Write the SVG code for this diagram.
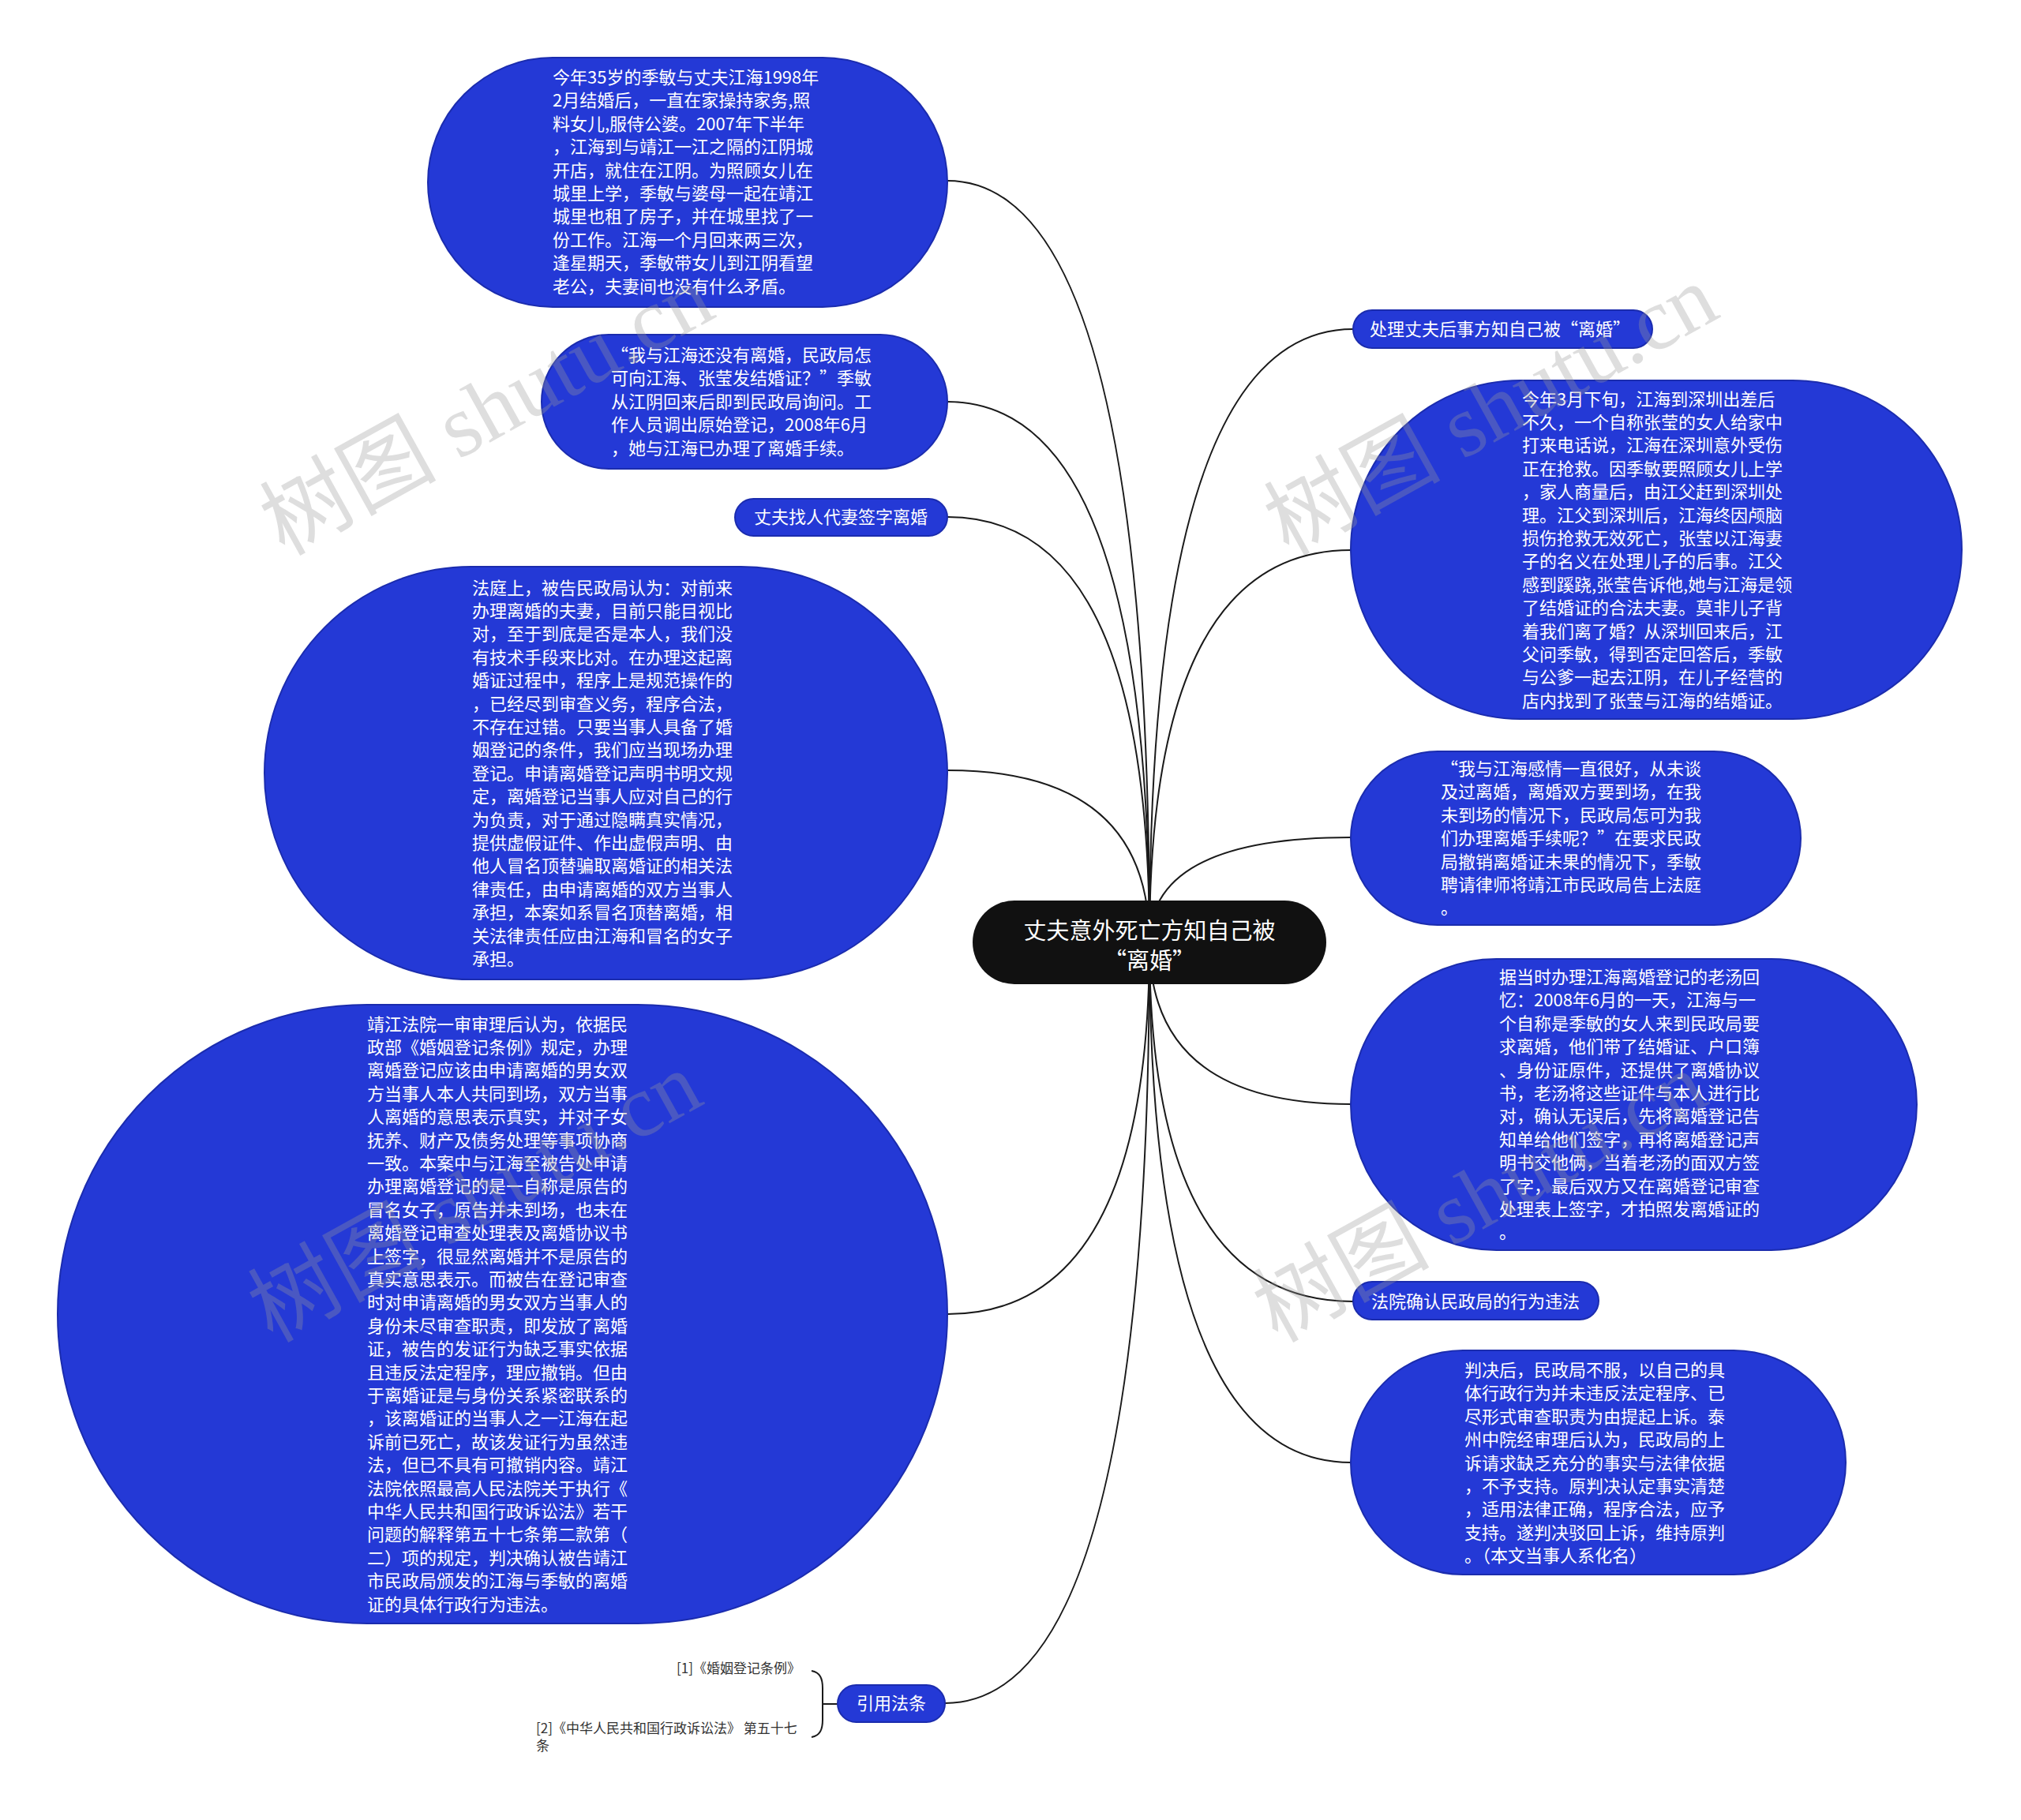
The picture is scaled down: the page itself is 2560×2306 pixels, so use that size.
<svg xmlns="http://www.w3.org/2000/svg" width="2560" height="2306" viewBox="0 0 2560 2306">
<style>
.n{fill:#2439d6;stroke:#1b2cae;stroke-width:2}
.t{font-family:"Noto Sans CJK SC","Noto Sans",sans-serif;font-size:22px;fill:#ffffff}
.tc{text-anchor:middle}
.c{fill:none;stroke:#1a1a1a;stroke-width:2}
.cite{font-family:"Noto Sans CJK SC","Noto Sans",sans-serif;font-size:17px;fill:#333333}
.wm{font-family:"Liberation Serif","Noto Sans CJK SC",serif;font-size:112px;fill:#9a9a9a;opacity:0.32}
</style>
<rect width="2560" height="2306" fill="#ffffff"/>
<g id="connectors">
<path class="c" d="M1200,229 Q1456,229 1456,1194"/>
<path class="c" d="M1200,509 Q1456,509 1456,1194"/>
<path class="c" d="M1200,655 Q1456,655 1456,1194"/>
<path class="c" d="M1200,976 Q1456,976 1456,1194"/>
<path class="c" d="M1200,1665 Q1456,1665 1456,1194"/>
<path class="c" d="M1197,2158 Q1456,2158 1456,1194"/>
<path class="c" d="M1714,417 Q1456,417 1456,1194"/>
<path class="c" d="M1711,697 Q1456,697 1456,1194"/>
<path class="c" d="M1711,1061 Q1456,1061 1456,1194"/>
<path class="c" d="M1711,1399 Q1456,1399 1456,1194"/>
<path class="c" d="M1714,1649 Q1456,1649 1456,1194"/>
<path class="c" d="M1711,1853 Q1456,1853 1456,1194"/>
<path class="c" d="M1028,2117 C1039,2119 1042,2127 1042,2139 L1042,2179 C1042,2191 1039,2199 1028,2201"/>
<path class="c" d="M1042,2159 L1061,2159"/>
</g>
<g id="root">
<rect x="1232" y="1141" width="448" height="106" rx="53" fill="#111111"/>
<text class="t tc" x="1456" y="1190" style="font-size:29px">丈夫意外死亡方知自己被</text>
<text class="t tc" x="1456" y="1228" style="font-size:29px">“离婚”</text>
</g>
<g id="n1">
<rect class="n" x="542" y="73" width="658" height="316" rx="158"/>
<text class="t" x="700" y="106"><tspan x="700" dy="0">今年35岁的季敏与丈夫江海1998年</tspan><tspan x="700" dy="29.4">2月结婚后，一直在家操持家务,照</tspan><tspan x="700" dy="29.4">料女儿,服侍公婆。2007年下半年</tspan><tspan x="700" dy="29.4">，江海到与靖江一江之隔的江阴城</tspan><tspan x="700" dy="29.4">开店，就住在江阴。为照顾女儿在</tspan><tspan x="700" dy="29.4">城里上学，季敏与婆母一起在靖江</tspan><tspan x="700" dy="29.4">城里也租了房子，并在城里找了一</tspan><tspan x="700" dy="29.4">份工作。江海一个月回来两三次，</tspan><tspan x="700" dy="29.4">逢星期天，季敏带女儿到江阴看望</tspan><tspan x="700" dy="29.4">老公，夫妻间也没有什么矛盾。</tspan></text>
</g>
<g id="n2">
<rect class="n" x="686" y="424" width="514" height="170" rx="85"/>
<text class="t" x="774" y="458"><tspan x="774" dy="0">“我与江海还没有离婚，民政局怎</tspan><tspan x="774" dy="29.4">可向江海、张莹发结婚证？”季敏</tspan><tspan x="774" dy="29.4">从江阴回来后即到民政局询问。工</tspan><tspan x="774" dy="29.4">作人员调出原始登记，2008年6月</tspan><tspan x="774" dy="29.4">，她与江海已办理了离婚手续。</tspan></text>
</g>
<g id="n3">
<rect class="n" x="931" y="632" width="269" height="47" rx="23.5"/>
<text class="t tc" x="1065" y="663">丈夫找人代妻签字离婚</text>
</g>
<g id="n4">
<rect class="n" x="335" y="718" width="865" height="523" rx="261.5"/>
<text class="t" x="598" y="752.5"><tspan x="598" dy="0">法庭上，被告民政局认为：对前来</tspan><tspan x="598" dy="29.4">办理离婚的夫妻，目前只能目视比</tspan><tspan x="598" dy="29.4">对，至于到底是否是本人，我们没</tspan><tspan x="598" dy="29.4">有技术手段来比对。在办理这起离</tspan><tspan x="598" dy="29.4">婚证过程中，程序上是规范操作的</tspan><tspan x="598" dy="29.4">，已经尽到审查义务，程序合法，</tspan><tspan x="598" dy="29.4">不存在过错。只要当事人具备了婚</tspan><tspan x="598" dy="29.4">姻登记的条件，我们应当现场办理</tspan><tspan x="598" dy="29.4">登记。申请离婚登记声明书明文规</tspan><tspan x="598" dy="29.4">定，离婚登记当事人应对自己的行</tspan><tspan x="598" dy="29.4">为负责，对于通过隐瞒真实情况，</tspan><tspan x="598" dy="29.4">提供虚假证件、作出虚假声明、由</tspan><tspan x="598" dy="29.4">他人冒名顶替骗取离婚证的相关法</tspan><tspan x="598" dy="29.4">律责任，由申请离婚的双方当事人</tspan><tspan x="598" dy="29.4">承担，本案如系冒名顶替离婚，相</tspan><tspan x="598" dy="29.4">关法律责任应由江海和冒名的女子</tspan><tspan x="598" dy="29.4">承担。</tspan></text>
</g>
<g id="n5">
<rect class="n" x="73" y="1273" width="1127" height="784" rx="392"/>
<text class="t" x="465" y="1305.5"><tspan x="465" dy="0">靖江法院一审审理后认为，依据民</tspan><tspan x="465" dy="29.4">政部《婚姻登记条例》规定，办理</tspan><tspan x="465" dy="29.4">离婚登记应该由申请离婚的男女双</tspan><tspan x="465" dy="29.4">方当事人本人共同到场，双方当事</tspan><tspan x="465" dy="29.4">人离婚的意思表示真实，并对子女</tspan><tspan x="465" dy="29.4">抚养、财产及债务处理等事项协商</tspan><tspan x="465" dy="29.4">一致。本案中与江海至被告处申请</tspan><tspan x="465" dy="29.4">办理离婚登记的是一自称是原告的</tspan><tspan x="465" dy="29.4">冒名女子，原告并未到场，也未在</tspan><tspan x="465" dy="29.4">离婚登记审查处理表及离婚协议书</tspan><tspan x="465" dy="29.4">上签字，很显然离婚并不是原告的</tspan><tspan x="465" dy="29.4">真实意思表示。而被告在登记审查</tspan><tspan x="465" dy="29.4">时对申请离婚的男女双方当事人的</tspan><tspan x="465" dy="29.4">身份未尽审查职责，即发放了离婚</tspan><tspan x="465" dy="29.4">证，被告的发证行为缺乏事实依据</tspan><tspan x="465" dy="29.4">且违反法定程序，理应撤销。但由</tspan><tspan x="465" dy="29.4">于离婚证是与身份关系紧密联系的</tspan><tspan x="465" dy="29.4">，该离婚证的当事人之一江海在起</tspan><tspan x="465" dy="29.4">诉前已死亡，故该发证行为虽然违</tspan><tspan x="465" dy="29.4">法，但已不具有可撤销内容。靖江</tspan><tspan x="465" dy="29.4">法院依照最高人民法院关于执行《</tspan><tspan x="465" dy="29.4">中华人民共和国行政诉讼法》若干</tspan><tspan x="465" dy="29.4">问题的解释第五十七条第二款第（</tspan><tspan x="465" dy="29.4">二）项的规定，判决确认被告靖江</tspan><tspan x="465" dy="29.4">市民政局颁发的江海与季敏的离婚</tspan><tspan x="465" dy="29.4">证的具体行政行为违法。</tspan></text>
</g>
<g id="n6">
<rect class="n" x="1061" y="2135" width="136" height="47" rx="23.5"/>
<text class="t tc" x="1129" y="2166">引用法条</text>
</g>
<g id="cites">
<text class="cite" x="1014" y="2120" text-anchor="end">[1]《婚姻登记条例》</text>
<text class="cite" x="679" y="2196">[2]《中华人民共和国行政诉讼法》 第五十七</text>
<text class="cite" x="679" y="2218">条</text>
</g>
<g id="r1">
<rect class="n" x="1714" y="393" width="379" height="48" rx="24"/>
<text class="t tc" x="1900" y="425">处理丈夫后事方知自己被“离婚”</text>
</g>
<g id="r2">
<rect class="n" x="1711" y="482" width="774" height="429" rx="214.5"/>
<text class="t" x="1928" y="513.5"><tspan x="1928" dy="0">今年3月下旬，江海到深圳出差后</tspan><tspan x="1928" dy="29.4">不久，一个自称张莹的女人给家中</tspan><tspan x="1928" dy="29.4">打来电话说，江海在深圳意外受伤</tspan><tspan x="1928" dy="29.4">正在抢救。因季敏要照顾女儿上学</tspan><tspan x="1928" dy="29.4">，家人商量后，由江父赶到深圳处</tspan><tspan x="1928" dy="29.4">理。江父到深圳后，江海终因颅脑</tspan><tspan x="1928" dy="29.4">损伤抢救无效死亡，张莹以江海妻</tspan><tspan x="1928" dy="29.4">子的名义在处理儿子的后事。江父</tspan><tspan x="1928" dy="29.4">感到蹊跷,张莹告诉他,她与江海是领</tspan><tspan x="1928" dy="29.4">了结婚证的合法夫妻。莫非儿子背</tspan><tspan x="1928" dy="29.4">着我们离了婚？从深圳回来后，江</tspan><tspan x="1928" dy="29.4">父问季敏，得到否定回答后，季敏</tspan><tspan x="1928" dy="29.4">与公爹一起去江阴，在儿子经营的</tspan><tspan x="1928" dy="29.4">店内找到了张莹与江海的结婚证。</tspan></text>
</g>
<g id="r3">
<rect class="n" x="1711" y="952" width="570" height="220" rx="110"/>
<text class="t" x="1825" y="982"><tspan x="1825" dy="0">“我与江海感情一直很好，从未谈</tspan><tspan x="1825" dy="29.4">及过离婚，离婚双方要到场，在我</tspan><tspan x="1825" dy="29.4">未到场的情况下，民政局怎可为我</tspan><tspan x="1825" dy="29.4">们办理离婚手续呢？”在要求民政</tspan><tspan x="1825" dy="29.4">局撤销离婚证未果的情况下，季敏</tspan><tspan x="1825" dy="29.4">聘请律师将靖江市民政局告上法庭</tspan><tspan x="1825" dy="29.4">。</tspan></text>
</g>
<g id="r4">
<rect class="n" x="1711" y="1215" width="717" height="369" rx="184.5"/>
<text class="t" x="1899" y="1246"><tspan x="1899" dy="0">据当时办理江海离婚登记的老汤回</tspan><tspan x="1899" dy="29.4">忆：2008年6月的一天，江海与一</tspan><tspan x="1899" dy="29.4">个自称是季敏的女人来到民政局要</tspan><tspan x="1899" dy="29.4">求离婚，他们带了结婚证、户口簿</tspan><tspan x="1899" dy="29.4">、身份证原件，还提供了离婚协议</tspan><tspan x="1899" dy="29.4">书，老汤将这些证件与本人进行比</tspan><tspan x="1899" dy="29.4">对，确认无误后，先将离婚登记告</tspan><tspan x="1899" dy="29.4">知单给他们签字，再将离婚登记声</tspan><tspan x="1899" dy="29.4">明书交他俩，当着老汤的面双方签</tspan><tspan x="1899" dy="29.4">了字，最后双方又在离婚登记审查</tspan><tspan x="1899" dy="29.4">处理表上签字，才拍照发离婚证的</tspan><tspan x="1899" dy="29.4">。</tspan></text>
</g>
<g id="r5">
<rect class="n" x="1714" y="1624" width="311" height="48" rx="24"/>
<text class="t tc" x="1869" y="1657">法院确认民政局的行为违法</text>
</g>
<g id="r6">
<rect class="n" x="1711" y="1711" width="627" height="284" rx="142"/>
<text class="t" x="1855" y="1744"><tspan x="1855" dy="0">判决后，民政局不服，以自己的具</tspan><tspan x="1855" dy="29.4">体行政行为并未违反法定程序、已</tspan><tspan x="1855" dy="29.4">尽形式审查职责为由提起上诉。泰</tspan><tspan x="1855" dy="29.4">州中院经审理后认为，民政局的上</tspan><tspan x="1855" dy="29.4">诉请求缺乏充分的事实与法律依据</tspan><tspan x="1855" dy="29.4">，不予支持。原判决认定事实清楚</tspan><tspan x="1855" dy="29.4">，适用法律正确，程序合法，应予</tspan><tspan x="1855" dy="29.4">支持。遂判决驳回上诉，维持原判</tspan><tspan x="1855" dy="29.4">。（本文当事人系化名）</tspan></text>
</g>
<g id="watermarks">
<text class="wm" transform="translate(360,705) rotate(-29)">树图 shutu.cn</text>
<text class="wm" transform="translate(1632,705) rotate(-29)">树图 shutu.cn</text>
<text class="wm" transform="translate(345,1702) rotate(-29)">树图 shutu.cn</text>
<text class="wm" transform="translate(1618,1702) rotate(-29)">树图 shutu.cn</text>
</g>
</svg>
